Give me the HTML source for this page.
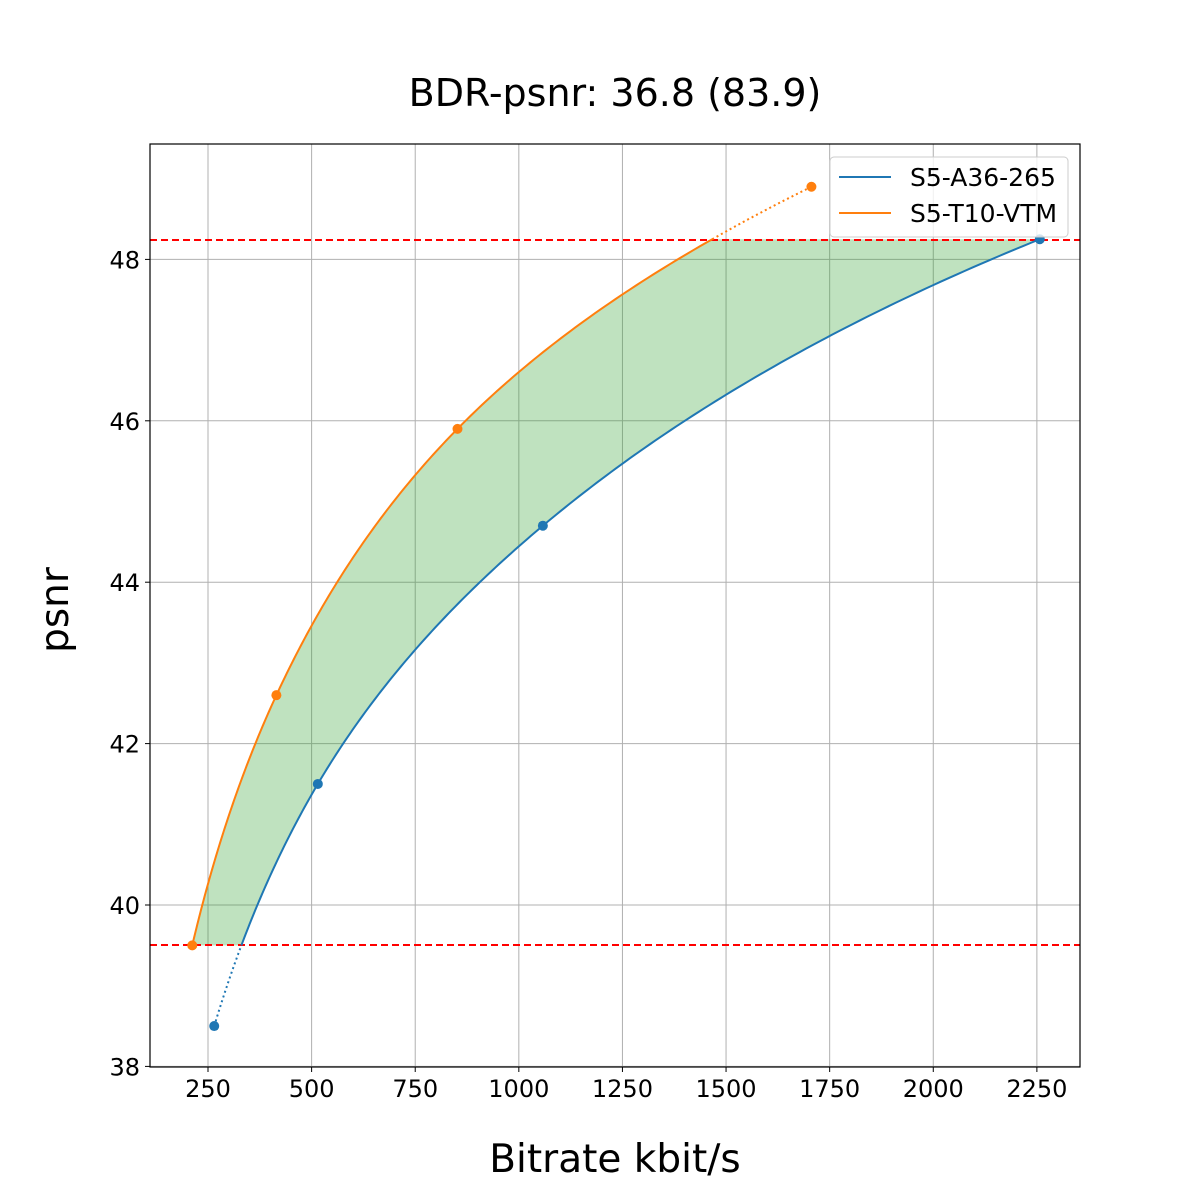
<!DOCTYPE html>
<html><head><meta charset="utf-8"><style>
body{margin:0;background:#fff;overflow:hidden;}
text{font-family:"DejaVu Sans","Liberation Sans",sans-serif;}
</style></head><body>
<svg id="s" width="1200" height="1200" xmlns="http://www.w3.org/2000/svg" style="display:block">
<rect width="1200" height="1200" fill="#fff"/>
<text x="615" y="106" font-size="38" text-anchor="middle">BDR-psnr: 36.8 (83.9)</text>
<g id="grid" stroke="#b0b0b0" stroke-width="1"></g>
<path id="fill" fill="#2ca02c" fill-opacity="0.3" stroke="none"/>
<line x1="150" y1="240" x2="1080" y2="240" stroke="#ff0000" stroke-width="2" stroke-dasharray="7,4"/>
<line x1="150" y1="945" x2="1080" y2="945" stroke="#ff0000" stroke-width="2" stroke-dasharray="7,4"/>
<path id="bs" fill="none" stroke="#1f77b4" stroke-width="2"/>
<path id="bd" fill="none" stroke="#1f77b4" stroke-width="2" stroke-dasharray="2,3"/>
<path id="os" fill="none" stroke="#ff7f0e" stroke-width="2"/>
<path id="od" fill="none" stroke="#ff7f0e" stroke-width="2" stroke-dasharray="2,3"/>
<g id="pts"></g>
<rect x="150" y="144" width="930" height="923" fill="none" stroke="#000" stroke-width="1.2"/>
<g id="ticks" font-size="24"></g>
<text x="615" y="1172" font-size="39" text-anchor="middle">Bitrate kbit/s</text>
<text transform="translate(68,610) rotate(-90)" font-size="39" text-anchor="middle">psnr</text>
<rect x="830" y="157" width="238" height="80" rx="4" fill="#fff" fill-opacity="0.8" stroke="#ccc"/>
<line x1="839" y1="177" x2="891" y2="177" stroke="#1f77b4" stroke-width="2"/>
<line x1="839" y1="213" x2="891" y2="213" stroke="#ff7f0e" stroke-width="2"/>
<text x="910" y="186" font-size="25">S5-A36-265</text>
<text x="910" y="222" font-size="25">S5-T10-VTM</text>
</svg>
<script>
const X=v=>208+(v-250)*0.41444, Y=v=>905-(v-40)*80.7;
const ns="http://www.w3.org/2000/svg";
function el(p,t,a,txt){const e=document.createElementNS(ns,t);for(const k in a)e.setAttribute(k,a[k]);if(txt)e.textContent=txt;document.getElementById(p).appendChild(e);}
for(let v=250;v<=2250;v+=250){el("grid","line",{x1:X(v),x2:X(v),y1:144,y2:1067});el("ticks","line",{x1:X(v),x2:X(v),y1:1067,y2:1072,stroke:"#000"});el("ticks","text",{x:X(v),y:1097,"text-anchor":"middle"},v);}
for(let v=38;v<=48;v+=2){el("grid","line",{x1:150,x2:1080,y1:Y(v),y2:Y(v)});el("ticks","line",{x1:145,x2:150,y1:Y(v),y2:Y(v),stroke:"#000"});el("ticks","text",{x:140,y:Y(v)+9,"text-anchor":"end"},v);}
function pchip(xs,ys){const n=xs.length,h=[],d=[],m=[];for(let i=0;i<n-1;i++){h[i]=xs[i+1]-xs[i];d[i]=(ys[i+1]-ys[i])/h[i];}
m[0]=d[0];m[n-1]=d[n-2];for(let i=1;i<n-1;i++){if(d[i-1]*d[i]<=0)m[i]=0;else{const w1=2*h[i]+h[i-1],w2=h[i]+2*h[i-1];m[i]=(w1+w2)/(w1/d[i-1]+w2/d[i]);}}
return x=>{let i=0;while(i<n-2&&x>xs[i+1])i++;const t=(x-xs[i])/h[i],t2=t*t,t3=t2*t;return (2*t3-3*t2+1)*ys[i]+(t3-2*t2+t)*h[i]*m[i]+(-2*t3+3*t2)*ys[i+1]+(t3-t2)*h[i]*m[i+1];};}
function curve(r,p){const f=pchip(p,r.map(Math.log));return q=>[X(Math.exp(f(q))),Y(q)];}
const br=[265,515,1058,2257],bp=[38.5,41.5,44.7,48.25];
const or=[212,415,852,1706],op=[39.5,42.6,45.9,48.9];
const fb=curve(br,bp),fo=curve(or,op);
function path(f,a,b){let s="";const N=200;for(let i=0;i<=N;i++){const q=a+(b-a)*i/N,[x,y]=f(q);s+=(i?"L":"M")+x.toFixed(2)+","+y.toFixed(2);}return s;}
document.getElementById("bs").setAttribute("d",path(fb,39.5,48.25));
document.getElementById("bd").setAttribute("d",path(fb,38.5,39.5));
document.getElementById("os").setAttribute("d",path(fo,39.5,48.25));
document.getElementById("od").setAttribute("d",path(fo,48.25,48.9));
let fp=path(fo,39.5,48.25);const N=200;for(let i=N;i>=0;i--){const q=39.5+8.75*i/N,[x,y]=fb(q);fp+="L"+x.toFixed(2)+","+y.toFixed(2);}fp+="Z";
document.getElementById("fill").setAttribute("d",fp);
br.forEach((r,i)=>el("pts","circle",{cx:X(r),cy:Y(bp[i]),r:5,fill:"#1f77b4"}));
or.forEach((r,i)=>el("pts","circle",{cx:X(r),cy:Y(op[i]),r:5,fill:"#ff7f0e"}));
</script>
</body></html>
